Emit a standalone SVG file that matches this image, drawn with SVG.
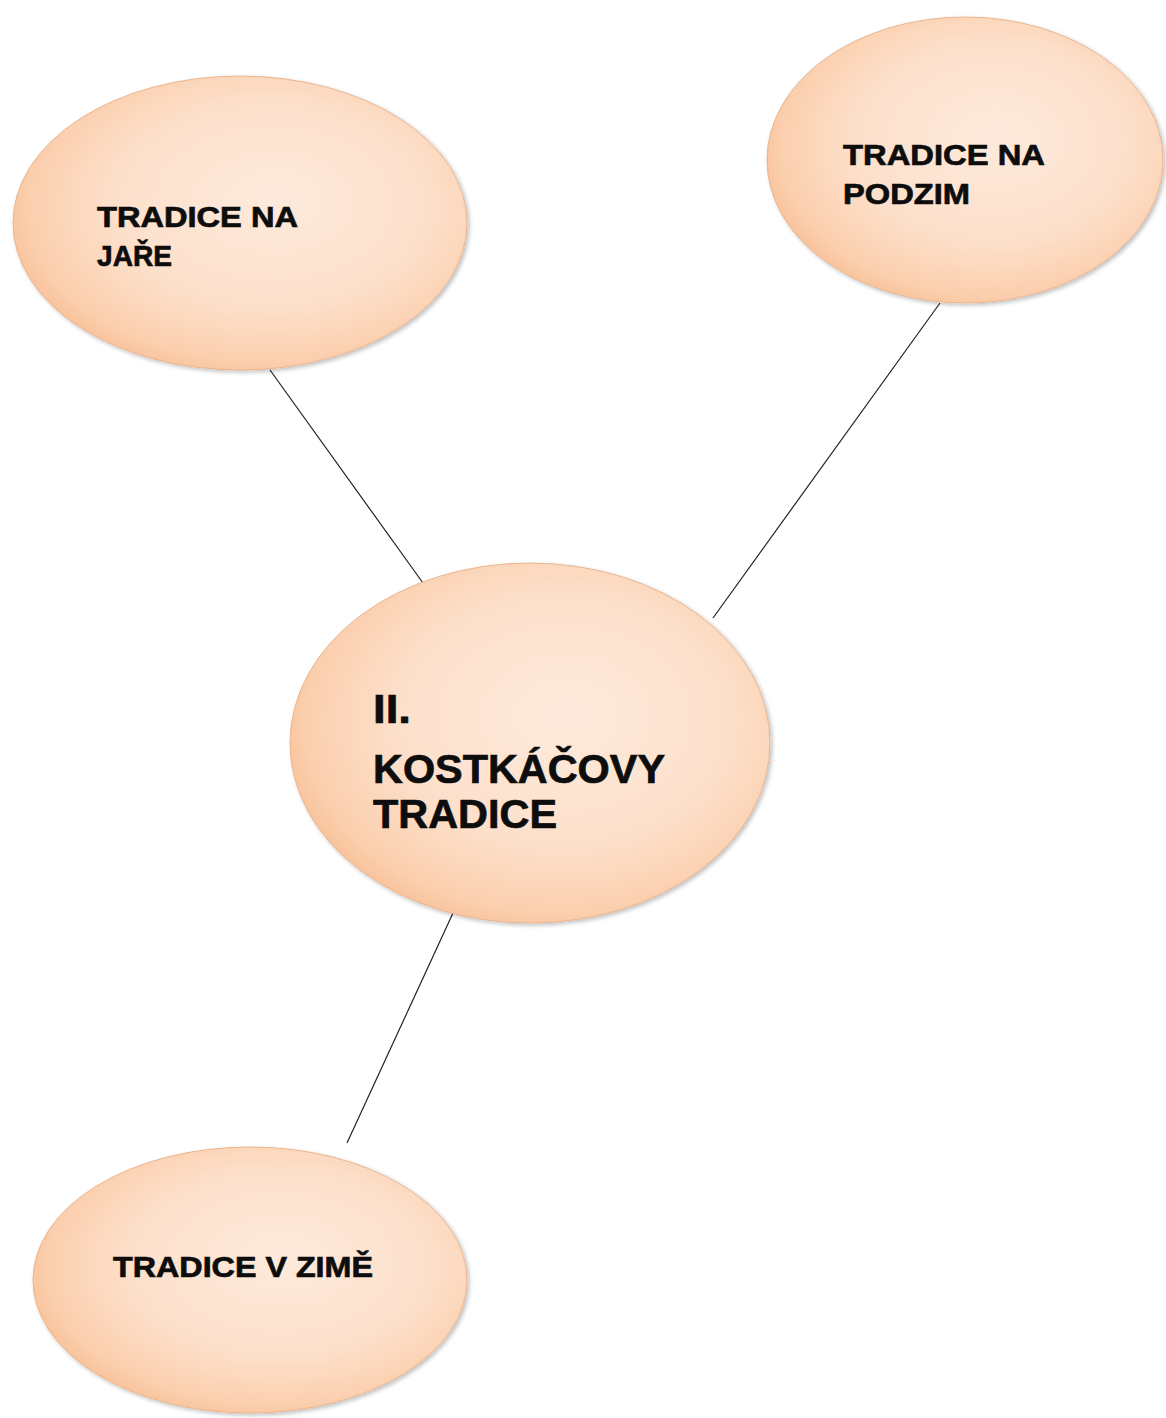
<svg xmlns="http://www.w3.org/2000/svg" width="1166" height="1418" viewBox="0 0 1166 1418">
<defs>
<radialGradient id="peach" cx="0.56" cy="0.45" r="0.62" fx="0.58" fy="0.42">
<stop offset="0" stop-color="#fdeadc"/>
<stop offset="0.55" stop-color="#fde0cb"/>
<stop offset="0.85" stop-color="#fbcfae"/>
<stop offset="1" stop-color="#f7bb8e"/>
</radialGradient>
<filter id="sh" x="-10%" y="-10%" width="120%" height="120%">
<feGaussianBlur in="SourceAlpha" stdDeviation="2"/>
<feOffset dx="2" dy="2" result="b"/>
<feComponentTransfer><feFuncA type="linear" slope="0.25"/></feComponentTransfer>
<feMerge><feMergeNode/><feMergeNode in="SourceGraphic"/></feMerge>
</filter>
</defs>
<style>
.node{fill:url(#peach);stroke:#e9b58e;stroke-width:1;filter:url(#sh)}
.lbl{font-family:"Liberation Sans",Arial,sans-serif;font-weight:bold;fill:#0d0d0d;stroke:#0d0d0d;stroke-width:0.7}
.s{font-size:30px}
.b{font-size:40px}
.edge{stroke:#222;stroke-width:1.2;fill:none}
</style>
<rect width="1166" height="1418" fill="#ffffff"/>
<g id="connectors">
<line class="edge" x1="270" y1="370" x2="423" y2="583"/>
<line class="edge" x1="940" y1="303" x2="713" y2="618"/>
<line class="edge" x1="453" y1="913" x2="347" y2="1143"/>
</g>
<g id="node-jare">
<ellipse class="node" cx="240" cy="223" rx="227" ry="147"/>
<text class="lbl s" x="97" y="227" textLength="201" lengthAdjust="spacingAndGlyphs">TRADICE NA</text>
<text class="lbl s" x="97" y="266" textLength="75" lengthAdjust="spacingAndGlyphs">JAŘE</text>
</g>
<g id="node-podzim">
<ellipse class="node" cx="965" cy="160" rx="198" ry="143"/>
<text class="lbl s" x="843" y="165" textLength="202" lengthAdjust="spacingAndGlyphs">TRADICE NA</text>
<text class="lbl s" x="843" y="204" textLength="127" lengthAdjust="spacingAndGlyphs">PODZIM</text>
</g>
<g id="node-center">
<ellipse class="node" cx="530" cy="743" rx="240" ry="180"/>
<text class="lbl b" x="373" y="723" textLength="38" lengthAdjust="spacingAndGlyphs">II.</text>
<text class="lbl b" x="373" y="783" textLength="292" lengthAdjust="spacingAndGlyphs">KOSTKÁČOVY</text>
<text class="lbl b" x="373" y="828" textLength="184" lengthAdjust="spacingAndGlyphs">TRADICE</text>
</g>
<g id="node-zime">
<ellipse class="node" cx="250" cy="1280" rx="217" ry="133"/>
<text class="lbl s" x="113" y="1277" textLength="260" lengthAdjust="spacingAndGlyphs">TRADICE V ZIMĚ</text>
</g>
</svg>
